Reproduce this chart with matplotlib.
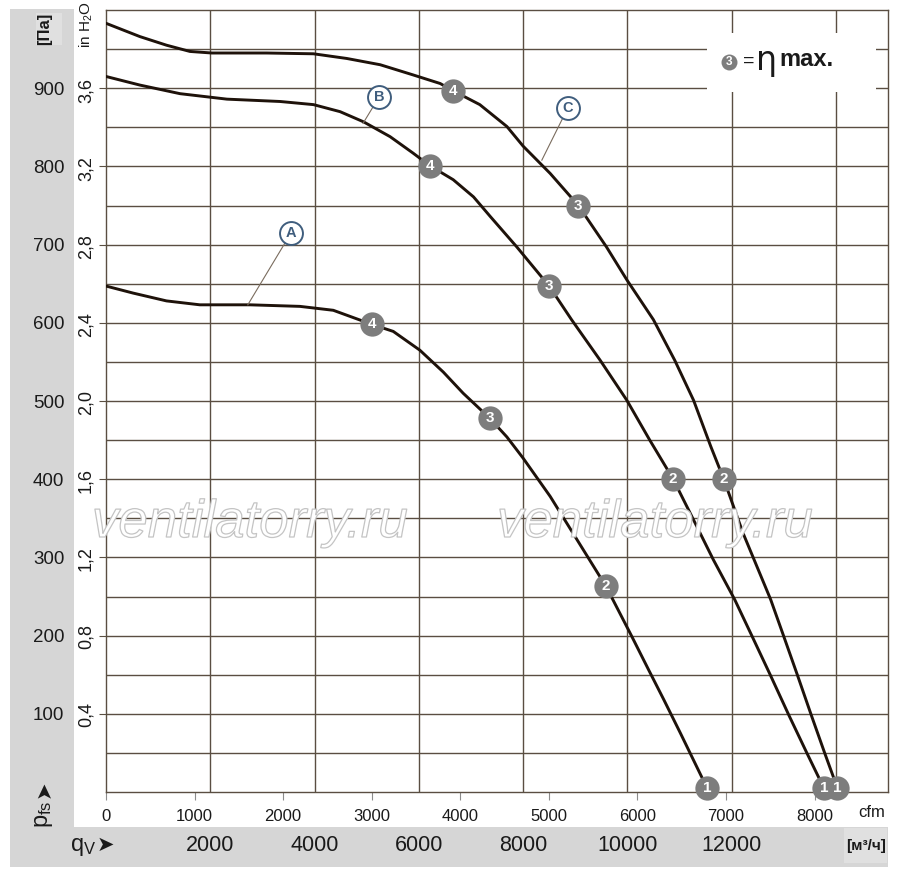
import numpy as np
import matplotlib
matplotlib.use("Agg")
import matplotlib.pyplot as plt
import matplotlib.patheffects as pe
from matplotlib import font_manager
from matplotlib.patches import Rectangle

# data: flow in m3/h, static pressure in Pa
curve_a_q = [0, 520, 1160, 1800, 2760, 3720, 4360, 5100, 5510, 6020, 6470, 6850, 7360,
             7690, 8000, 8520, 9590, 9730, 10070, 10410, 10700, 11020, 11530]
curve_a_p = [647, 638, 628, 623, 623, 621, 616, 598, 589, 565, 537, 510, 478,
             454, 427, 378, 263, 245, 201, 156, 118, 75, 5]

curve_b_q = [0, 650, 1420, 2320, 3340, 3980, 4490, 4940, 5450, 5890, 6210, 6660, 7050,
             7370, 7880, 8500, 8930, 9480, 9990, 10430, 10880, 11270, 11650, 12060,
             12380, 12740, 13100, 13450, 13770]
curve_b_p = [915, 904, 893, 886, 883, 879, 870, 857, 838, 817, 801, 783, 761,
             736, 697, 647, 604, 552, 501, 450, 400, 348, 297, 246,
             201, 150, 98, 49, 5]

curve_c_q = [0, 650, 1160, 1610, 2030, 3080, 3980, 4620, 5260, 5890, 6410, 6650, 7170,
             7690, 8000, 8520, 9060, 9600, 9990, 10500, 10910, 11270, 11600, 11850,
             12220, 12750, 12990, 13260, 13530, 13790, 14030]
curve_c_p = [983, 966, 955, 947, 945, 945, 944, 938, 930, 917, 906, 897, 879,
             851, 826, 791, 750, 697, 655, 604, 552, 501, 442, 400,
             331, 246, 201, 150, 98, 49, 5]

# operating points 4..1 on each curve
mark_names = ["4", "3", "2", "1"]
marks_a_q = [5100, 7360, 9590, 11530]
marks_a_p = [598, 478, 263, 5]
marks_b_q = [6210, 8500, 10880, 13770]
marks_b_p = [801, 647, 400, 5]
marks_c_q = [6650, 9060, 11850, 14030]
marks_c_p = [897, 750, 400, 5]

# curve name circles and where their leader lines touch the curve
label_names = ["A", "B", "C"]
label_q = [3550, 5240, 8860]
label_p = [715, 889, 875]
leader_q = [2720, 4930, 8360]
leader_p = [623, 855, 808]

pa_ticks = [100, 200, 300, 400, 500, 600, 700, 800, 900]
inh2o_ticks = [0.4, 0.8, 1.2, 1.6, 2.0, 2.4, 2.8, 3.2, 3.6]
cfm_ticks = [0, 1000, 2000, 3000, 4000, 5000, 6000, 7000, 8000]
m3h_ticks = [2000, 4000, 6000, 8000, 10000, 12000]

CFM_TO_M3H = 1.69901
INH2O_TO_PA = 249.089

names = {f.name for f in font_manager.fontManager.ttflist}
REG = "Liberation Sans" if "Liberation Sans" in names else "DejaVu Sans"
NARROW = "Liberation Sans Narrow" if "Liberation Sans Narrow" in names else REG

W, H = 900, 881
fig = plt.figure(figsize=(9, 8.81), dpi=100)


def fx(px):
    return px / W


def fy(py):
    return 1 - py / H


def band(x0, y0, x1, y1, color):
    fig.add_artist(Rectangle((fx(x0), fy(y1)), fx(x1) - fx(x0), fy(y0) - fy(y1),
                             transform=fig.transFigure, facecolor=color,
                             edgecolor="none", zorder=0))


# grey label bands
band(10, 9, 74, 867, "#d6d6d6")
band(10, 827, 888, 867, "#d6d6d6")
band(36, 13, 62, 45, "#e0e0e0")
band(844, 828, 887, 863, "#e0e0e0")

ax = fig.add_axes([fx(106), fy(792), fx(888) - fx(106), fy(10) - fy(792)])
gridc = "#5a4e42"
ax.set_xlim(0, 15000)
ax.set_ylim(0, 1000)
ax.set_axisbelow(True)
for s in ax.spines.values():
    s.set_color(gridc)
    s.set_linewidth(1.0)

ax.set_xticks(np.array(cfm_ticks) * CFM_TO_M3H)
ax.set_xticklabels([str(v) for v in cfm_ticks], fontsize=12, family=NARROW, color="#1a1a1a")
ax.set_xticks(np.arange(2000, 15000, 2000), minor=True)
ax.tick_params(axis="x", which="major", length=6, color="#8c8c8c", pad=6)
ax.tick_params(axis="x", which="minor", length=0)

ax.set_yticks(pa_ticks)
ax.set_yticklabels([str(v) for v in pa_ticks], fontsize=13.5, family=REG, color="#1a1a1a")
ax.set_yticks(np.arange(50, 1000, 50), minor=True)
ax.tick_params(axis="y", which="major", length=5, color=gridc, pad=25)
ax.tick_params(axis="y", which="minor", length=0)

ax.xaxis.grid(True, which="minor", color=gridc, lw=1.0)
ax.xaxis.grid(False, which="major")
ax.yaxis.grid(True, which="both", color=gridc, lw=1.0)

# curves
curve_col = "#1e120a"
for q, p in [(curve_a_q, curve_a_p), (curve_b_q, curve_b_p), (curve_c_q, curve_c_p)]:
    ax.plot(q, p, color=curve_col, lw=2.1, solid_capstyle="round",
            solid_joinstyle="round", zorder=3)

# numbered operating points
mark_col = "#7d7d7d"
for mq, mp in [(marks_a_q, marks_a_p), (marks_b_q, marks_b_p), (marks_c_q, marks_c_p)]:
    ax.plot(mq, mp, "o", ms=17.5, mfc=mark_col, mec="none", zorder=5, clip_on=False)
    for name, q, p in zip(mark_names, mq, mp):
        ax.text(q, p, name, color="white", fontsize=11, fontweight="bold", family=NARROW,
                ha="center", va="center", zorder=6, clip_on=False)

# curve names A/B/C with leader lines
lab_col = "#3f5d7d"
for name, lq, lp, eq, ep in zip(label_names, label_q, label_p, leader_q, leader_p):
    ax.plot([lq, eq], [lp, ep], color="#7a6c5e", lw=0.8, zorder=4)
    ax.plot([lq], [lp], "o", ms=16.5, mfc="white", mec=lab_col, mew=1.4, zorder=5)
    ax.text(lq, lp, name, color=lab_col, fontsize=10.5, fontweight="bold", family=NARROW,
            ha="center", va="center", zorder=6)

# legend box "3 = eta max."
ax.add_patch(Rectangle((11530, 895), 3240, 76, facecolor="white", edgecolor="none", zorder=1))
ax.plot([11950], [933], "o", ms=11.5, mfc=mark_col, mec="none", zorder=5)
ax.text(11950, 933, "3", color="white", fontsize=8.5, fontweight="bold", family=NARROW,
        ha="center", va="center", zorder=6)
ax.text(12330, 934, "=", fontsize=14, family=REG, color="#1a1a1a", ha="center", va="center")
ax.text(12680, 935, "η", fontsize=24, family="DejaVu Sans", color="#1a1a1a",
        ha="center", va="center")
ax.text(12910, 937, "max.", fontsize=17, fontweight="bold", family=REG, color="#1a1a1a",
        ha="left", va="center")

# second pressure scale, in H2O
ytr = ax.get_yaxis_transform()
for v in inh2o_ticks:
    ax.text(-0.0256, v * INH2O_TO_PA, ("%.1f" % v).replace(".", ","), transform=ytr,
            rotation=90, fontsize=13, family=NARROW, color="#1a1a1a", ha="center", va="center")

# second flow scale, m3/h
xtr = ax.get_xaxis_transform()
for v in m3h_ticks:
    ax.text(v, -0.069, str(v), transform=xtr, fontsize=15.5, family=REG, color="#1a1a1a",
            ha="center", va="center")

ax.text(0.9795, -0.0256, "cfm", transform=ax.transAxes, fontsize=12, family=NARROW,
        color="#1a1a1a", ha="center", va="center")

# unit and axis names
fig.text(fx(45), fy(29), "[Па]", rotation=90, fontsize=12, fontweight="bold", family=REG,
         color="#1a1a1a", ha="center", va="center")
fig.text(fx(86), fy(25), r"in $\mathregular{H_2O}$", rotation=90, fontsize=11, family=NARROW,
         color="#1a1a1a", ha="center", va="center")
fig.text(fx(866), fy(846), "[м³/ч]", fontsize=11, fontweight="bold", family=NARROW,
         color="#1a1a1a", ha="center", va="center")
fig.text(fx(44), fy(814), r"$\mathregular{p_{fs}}$", rotation=90, fontsize=17,
         family=REG, color="#1a1a1a", ha="center", va="center")
fig.text(fx(44), fy(789), "➤", rotation=90, fontsize=15,
         family="DejaVu Sans", color="#1a1a1a", ha="center", va="center")
fig.text(fx(83), fy(847), r"$\mathregular{q_V}$", fontsize=17,
         family=REG, color="#1a1a1a", ha="center", va="center")
fig.text(fx(105), fy(845), "➤", fontsize=15,
         family="DejaVu Sans", color="#1a1a1a", ha="center", va="center")

# watermark
for cx in [250, 655]:
    fig.text(fx(cx), fy(537), "ventilatorry.ru", fontsize=38, style="italic", family=REG,
             color="white", ha="center", va="baseline", zorder=1,
             path_effects=[pe.Stroke(linewidth=0.9, foreground="#c4c4c4")])

fig.savefig("out.png", dpi=100)
